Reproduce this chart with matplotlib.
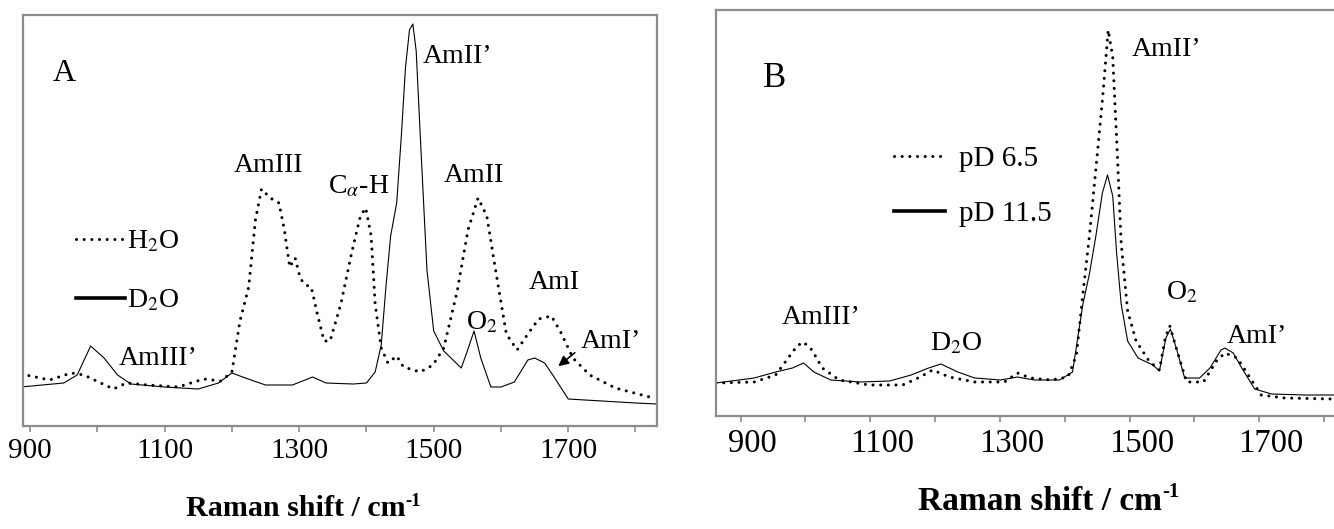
import matplotlib
matplotlib.use('Agg')
import matplotlib.pyplot as plt
import matplotlib.transforms as mtransforms
from matplotlib.lines import Line2D
from matplotlib.text import Annotation

plt.rcParams['font.family'] = ['Liberation Serif', 'DejaVu Serif']
plt.rcParams['mathtext.fontset'] = 'stix'

# painel A - espectros em H2O (pontilhado) e D2O (continuo)
a_d2o_x = [886, 950, 970, 990, 1010, 1030, 1050, 1100, 1150, 1180, 1200, 1220, 1250, 1290,
           1320, 1340, 1380, 1400, 1413, 1422, 1429, 1436, 1445, 1452, 1458, 1464, 1469, 1474,
           1480, 1490, 1500, 1515, 1541, 1550, 1560, 1570, 1585, 1600, 1620, 1640, 1650, 1665,
           1680, 1700, 1750, 1800, 1832]
a_d2o_y = [39, 43, 51, 80, 68, 51, 42, 39, 37, 43, 53, 48, 41, 41,
           49, 43, 42, 43, 54, 81, 139, 190, 223, 291, 358, 396, 402, 375,
           291, 156, 95, 75, 58, 75, 95, 68, 39, 39, 44, 66, 68, 63,
           48, 27, 25, 23, 22]

a_h2o_x = [887, 929, 961, 980, 1005, 1024, 1043, 1075, 1120, 1158, 1184, 1200, 1212, 1225,
           1235, 1244, 1257, 1270, 1278, 1286, 1294, 1302, 1310, 1318, 1327, 1337, 1346, 1362,
           1378, 1391, 1399, 1407, 1413, 1422, 1432, 1445, 1455, 1480, 1499, 1515, 1535, 1551,
           1566, 1579, 1592, 1608, 1624, 1640, 1656, 1675, 1688, 1707, 1732, 1770, 1821]
a_h2o_y = [52, 46, 53, 51, 43, 37, 43, 41, 39, 47, 45, 54, 105, 139,
           206, 237, 228, 223, 196, 159, 168, 147, 141, 139, 112, 85, 85, 122,
           173, 210, 218, 190, 122, 78, 63, 70, 59, 54, 61, 78, 135, 196,
           228, 210, 156, 92, 76, 92, 107, 110, 95, 68, 51, 38, 29]

# painel B - D2O em pD 6.5 (pontilhado) e pD 11.5 (continuo)
b_pd115_x = [862, 921, 954, 980, 997, 1013, 1039, 1085, 1130, 1163, 1190, 1209, 1235, 1261,
             1301, 1327, 1353, 1392, 1412, 1428, 1438, 1448, 1458, 1466, 1474, 1480, 1487,
             1497, 1513, 1536, 1546, 1556, 1563, 1572, 1585, 1608, 1624, 1641, 1647, 1660,
             1673, 1693, 1719, 1771, 1815]
b_pd115_y = [33, 38, 44, 48, 53, 44, 36, 34, 35, 41, 48, 52, 44, 38,
             36, 39, 36, 36, 44, 112, 142, 180, 223, 241, 220, 163, 112,
             75, 58, 51, 45, 78, 87, 68, 38, 38, 48, 66, 68, 63,
             48, 27, 22, 21, 21]

b_pd65_x = [862, 921, 954, 970, 987, 997, 1010, 1026, 1052, 1098, 1150, 1177, 1196, 1222,
            1261, 1307, 1327, 1347, 1379, 1405, 1418, 1428, 1438, 1448, 1458, 1467, 1474,
            1481, 1487, 1497, 1510, 1530, 1546, 1555, 1562, 1572, 1588, 1614, 1634, 1647,
            1666, 1683, 1703, 1739, 1815]
b_pd65_y = [33, 34, 41, 55, 70, 74, 66, 48, 36, 31, 31, 39, 46, 39,
            34, 34, 43, 38, 36, 39, 61, 122, 180, 247, 315, 386, 359,
            264, 173, 105, 75, 55, 46, 78, 90, 68, 34, 34, 55, 63,
            58, 41, 21, 18, 17]

ticks = list(range(900, 1801, 100))
tick_labels = ['900', '', '1100', '', '1300', '', '1500', '', '1700', '']

cinza = '#8c8c8c'
pontilhado = dict(color='black', lw=2.2, ls=(0, (0.01, 2.5)), dash_capstyle='round')
continuo = dict(color='black', lw=0.8)

fig = plt.figure(figsize=(13.34, 5.29), dpi=100)
ax = fig.add_axes([22.7 / 1334, 103 / 529, 634.3 / 1334, 411 / 529])
ax2 = fig.add_axes([716 / 1334, 113 / 529, 627.5 / 1334, 406 / 529])


def estilo(eixo, xmin, xmax, ymax, fs):
    eixo.set_xlim(xmin, xmax)
    eixo.set_ylim(0, ymax)
    eixo.set_yticks([])
    eixo.set_xticks(ticks)
    eixo.set_xticklabels(tick_labels, fontsize=fs)
    eixo.tick_params(axis='x', direction='out', length=4, width=1.2, color=cinza, pad=5)
    for s in eixo.spines.values():
        s.set_color(cinza)
        s.set_linewidth(1.6)


def rotulo_x(x, y, fs):
    # titulo do eixo x com o expoente -1 (hifen, nao sinal de menos)
    t = fig.text(x, y, 'Raman shift / cm', fontsize=fs, fontweight='bold',
                 ha='center', va='center')
    fig.add_artist(Annotation('-1', xy=(1, 0.78), xycoords=t, fontsize=fs * 0.62,
                              fontweight='bold', ha='left', va='center',
                              annotation_clip=False))


# grafico A
ax.plot(a_h2o_x, a_h2o_y, **pontilhado)
ax.plot(a_d2o_x, a_d2o_y, **continuo)
estilo(ax, 889, 1832, 411, 21)

ax.text(934, 345, 'A', fontsize=23)
ax.text(1484, 363, 'AmII\u2019', fontsize=20)
ax.text(1255, 254, 'AmIII', fontsize=20, ha='center')
ax.text(1343, 233, 'C$_{\\alpha}$-H', fontsize=20)
ax.text(1560, 244, 'AmII', fontsize=20, ha='center')
ax.text(1679, 137, 'AmI', fontsize=20, ha='center')
ax.text(1548, 97, 'O$_2$', fontsize=20)
ax.text(1718, 78, 'AmI\u2019', fontsize=20)
ax.text(1090, 61, 'AmIII\u2019', fontsize=20, ha='center')
ax.annotate('', xy=(1682, 58), xytext=(1713, 75),
            arrowprops=dict(arrowstyle='-|>', color='black', lw=1.2, mutation_scale=15))

h_a = [Line2D([], [], **pontilhado), Line2D([], [], color='black', lw=2.6)]
ax.legend(h_a, ['H$_2$O', 'D$_2$O'], loc='upper left', bbox_to_anchor=(0.084, 0.48),
          frameon=False, fontsize=20, handlelength=1.75, handletextpad=0.1,
          labelspacing=1.2, borderpad=0, borderaxespad=0)

# grafico B
ax2.plot(b_pd65_x, b_pd65_y, **pontilhado)
ax2.plot(b_pd115_x, b_pd115_y, **continuo)
estilo(ax2, 862, 1830, 406, 23.5)
desloc = mtransforms.ScaledTranslation(12 / 100, 0, fig.dpi_scale_trans)
for lab in ax2.get_xticklabels():
    lab.set_transform(lab.get_transform() + desloc)

ax2.text(934, 329, 'B', fontsize=25)
ax2.text(1504, 360, 'AmII\u2019', fontsize=20)
ax2.text(1024, 92, 'AmIII\u2019', fontsize=20, ha='center')
ax2.text(1232, 66, 'D$_2$O', fontsize=20, ha='center')
ax2.text(1556, 117, 'O$_2$', fontsize=20)
ax2.text(1650, 73, 'AmI\u2019', fontsize=20)

h_b = [Line2D([], [], **pontilhado), Line2D([], [], color='black', lw=2.6)]
ax2.legend(h_b, ['pD 6.5', 'pD 11.5'], loc='upper left', bbox_to_anchor=(0.283, 0.665),
           frameon=False, fontsize=21, handlelength=1.75, handletextpad=0.5,
           labelspacing=0.97, borderpad=0, borderaxespad=0)

rotulo_x(296 / 1334, 1 - 509 / 529, 21.6)
rotulo_x(1040 / 1334, 1 - 501 / 529, 24)

fig.savefig('out.png', dpi=100)
